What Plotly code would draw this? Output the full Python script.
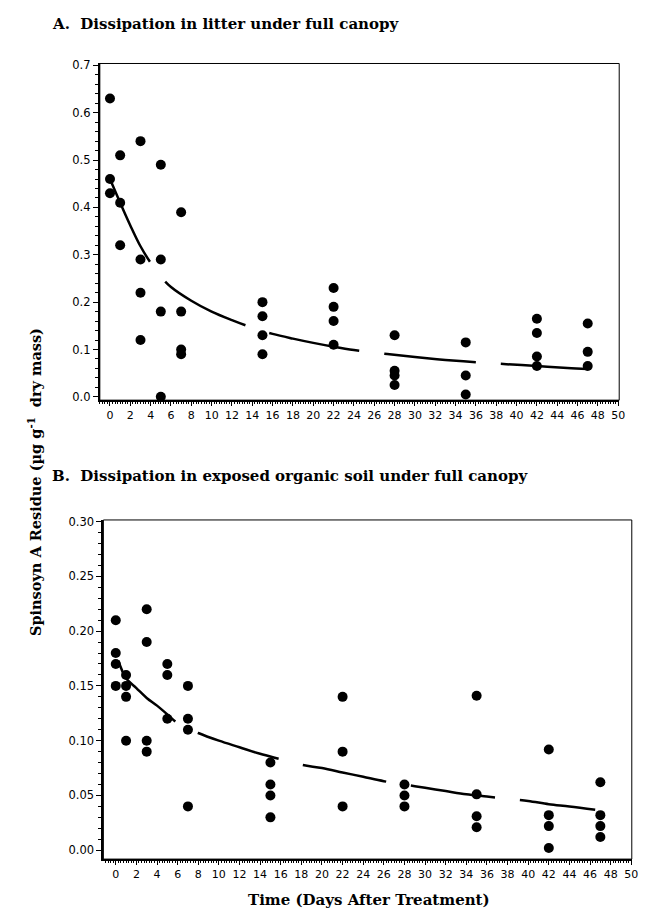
import plotly.graph_objects as go

# Page is 648x922; the browser adds an 8px body margin, so the figure is
# drawn 8px smaller and all page positions below are shifted by OFF.
PW, PH = 648, 922
OFF = 8
W, H = PW - OFF, PH - OFF

# ---- Panel A: litter under full canopy ----
a_days = [0, 0, 0, 1, 1, 1, 3, 3, 3, 3, 5, 5, 5, 5, 7, 7, 7, 7,
          15, 15, 15, 15, 22, 22, 22, 22, 28, 28, 28, 28, 35, 35, 35,
          42, 42, 42, 42, 47, 47, 47]
a_vals = [0.63, 0.46, 0.43, 0.51, 0.41, 0.32, 0.54, 0.29, 0.22, 0.12,
          0.49, 0.29, 0.18, 0.00, 0.39, 0.18, 0.10, 0.09,
          0.20, 0.17, 0.13, 0.09, 0.23, 0.19, 0.16, 0.11,
          0.13, 0.055, 0.045, 0.025, 0.115, 0.045, 0.005,
          0.165, 0.135, 0.085, 0.065, 0.155, 0.095, 0.065]
a_fit_days = [0, 1, 2, 3, 4, 5, 6, 8, 10, 12, 14, 16, 18, 20, 22, 24, 27,
              30, 33, 36, 39, 42, 45, 47]
a_fit_vals = [0.46, 0.41, 0.362, 0.318, 0.283, 0.254, 0.232, 0.203, 0.180,
              0.162, 0.146, 0.133, 0.123, 0.114, 0.106, 0.099, 0.091,
              0.084, 0.078, 0.073, 0.069, 0.065, 0.061, 0.059]

# ---- Panel B: exposed organic soil under full canopy ----
b_days = [0, 0, 0, 0, 1, 1, 1, 1, 3, 3, 3, 3, 5, 5, 5, 7, 7, 7, 7,
          15, 15, 15, 15, 22, 22, 22, 28, 28, 28, 35, 35, 35, 35,
          42, 42, 42, 42, 47, 47, 47, 47]
b_vals = [0.21, 0.18, 0.17, 0.15, 0.16, 0.15, 0.14, 0.10,
          0.22, 0.19, 0.10, 0.09, 0.17, 0.16, 0.12, 0.15, 0.12, 0.11, 0.04,
          0.08, 0.06, 0.05, 0.03, 0.14, 0.09, 0.04, 0.06, 0.05, 0.04,
          0.141, 0.051, 0.031, 0.021, 0.092, 0.032, 0.022, 0.002,
          0.062, 0.032, 0.022, 0.012]
b_fit_days = [0.25, 1, 2, 3, 4, 5, 6, 8, 10, 12, 14, 16, 18, 20, 22, 24, 26,
              28, 30, 32, 34, 36, 38, 40, 42, 44, 46.5]
b_fit_vals = [0.173, 0.157, 0.148, 0.139, 0.132, 0.124, 0.116, 0.107, 0.100,
              0.094, 0.088, 0.083, 0.078, 0.075, 0.071, 0.067, 0.063, 0.060,
              0.057, 0.054, 0.051, 0.049, 0.047, 0.045, 0.042, 0.040, 0.037]

title_a = "A.\u00a0 Dissipation in litter under full canopy"
title_b = "B.\u00a0 Dissipation in exposed organic soil under full canopy"
x_title = "Time (Days After Treatment)"
y_title = "Spinsoyn A Residue (\u00b5g g<sup>-1</sup>\u00a0 dry mass)"
x_ticks = list(range(0, 51, 2))


def fx(px):  # page x -> paper fraction
    return (px - OFF) / W


def fy(py):  # page y -> paper fraction
    return 1 - (py - OFF) / H


fig = go.Figure()
mk = dict(color="black", size=10)

fig.add_trace(go.Scatter(x=a_fit_days, y=a_fit_vals, mode="lines",
                         line=dict(color="black", width=2.5, dash="92px,25px", shape="spline"),
                         xaxis="x", yaxis="y", showlegend=False, hoverinfo="skip"))
fig.add_trace(go.Scatter(x=a_days, y=a_vals, mode="markers", marker=mk,
                         xaxis="x", yaxis="y", showlegend=False))
fig.add_trace(go.Scatter(x=b_fit_days, y=b_fit_vals, mode="lines",
                         line=dict(color="black", width=2.5, dash="85px,25px", shape="spline"),
                         xaxis="x2", yaxis="y2", showlegend=False, hoverinfo="skip"))
fig.add_trace(go.Scatter(x=b_days, y=b_vals, mode="markers", marker=mk,
                         xaxis="x2", yaxis="y2", showlegend=False))

xtickfont = dict(family="DejaVu Sans", size=11, color="black")
ytickfont = dict(family="DejaVu Sans", size=11.5, color="black")
xcommon = dict(tickmode="array", tickvals=x_ticks, ticktext=[str(v) for v in x_ticks],
               ticks="outside", ticklen=4, tickwidth=1, tickcolor="black",
               minor=dict(dtick=0.25, tick0=0, ticks="outside", ticklen=2, tickcolor="black"),
               showline=True, linewidth=2, linecolor="black",
               showgrid=False, zeroline=False, tickfont=xtickfont)
ycommon = dict(ticks="outside", ticklen=5, tickwidth=1, tickcolor="black",
               showline=True, linewidth=2, linecolor="black",
               showgrid=False, zeroline=False, tickfont=ytickfont)

fig.update_layout(
    width=W, height=H,
    margin=dict(l=0, r=0, t=0, b=0),
    paper_bgcolor="white", plot_bgcolor="white",
    xaxis=dict(domain=[fx(100.7), fx(625)], range=[-1.0, 50.1], anchor="y", **xcommon),
    yaxis=dict(domain=[fy(399), fy(59)], range=[-0.007, 0.704], anchor="x",
               tickmode="linear", tick0=0, dtick=0.1, tickformat=".1f",
               minor=dict(dtick=0.02, tick0=0, ticks="outside", ticklen=3, tickcolor="black"),
               **ycommon),
    xaxis2=dict(domain=[fx(104.3), fx(637.7)], range=[-1.2, 50.05], anchor="y2", **xcommon),
    yaxis2=dict(domain=[fy(862.5), fy(520)], range=[-0.0081, 0.3015], anchor="x2",
                tickmode="linear", tick0=0, dtick=0.05, tickformat=".2f",
                minor=dict(dtick=0.01, tick0=0, ticks="outside", ticklen=3, tickcolor="black"),
                **ycommon),
    shapes=[
        dict(type="rect", xref="x domain", yref="y domain", x0=0, x1=1, y0=0, y1=1,
             line=dict(color="black", width=1), layer="below"),
        dict(type="rect", xref="x2 domain", yref="y2 domain", x0=0, x1=1, y0=0, y1=1,
             line=dict(color="black", width=1), layer="below"),
    ],
    annotations=[
        dict(text="<b>" + title_a + "</b>", x=fx(50), y=fy(19), xref="paper", yref="paper",
             xanchor="left", yanchor="middle", showarrow=False,
             font=dict(family="DejaVu Serif", size=15, color="black")),
        dict(text="<b>" + title_b + "</b>", x=fx(50), y=fy(476), xref="paper", yref="paper",
             xanchor="left", yanchor="middle", showarrow=False,
             font=dict(family="DejaVu Serif", size=15, color="black")),
        dict(text="<b>" + x_title + "</b>", x=fx(372), y=fy(904), xref="paper", yref="paper",
             xanchor="center", yanchor="middle", showarrow=False,
             font=dict(family="DejaVu Serif", size=15, color="black")),
        dict(text="<b>" + y_title + "</b>", x=fx(35), y=fy(482), xref="paper", yref="paper",
             xanchor="center", yanchor="middle", showarrow=False, textangle=-90,
             font=dict(family="DejaVu Serif", size=14.5, color="black")),
    ],
)

fig.write_html("out.html")
